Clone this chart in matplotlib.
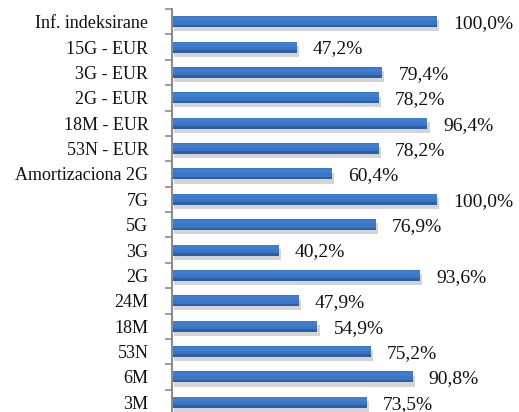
import matplotlib.pyplot as plt
import matplotlib.patheffects as pe
import numpy as np

categories = ["Inf. indeksirane", "15G - EUR", "3G - EUR", "2G - EUR", "18M - EUR",
              "53N - EUR", "Amortizaciona 2G", "7G", "5G", "3G", "2G", "24M",
              "18M", "53N", "6M", "3M"]
values = [100.0, 47.2, 79.4, 78.2, 96.4, 78.2, 60.4, 100.0, 76.9, 40.2,
          93.6, 47.9, 54.9, 75.2, 90.8, 73.5]

plt.rcParams["font.family"] = ["Liberation Serif", "DejaVu Serif"]

fig = plt.figure(figsize=(5.19, 4.12), dpi=100)
W, H = 519, 412
top_px, bottom_px = 9, 415
left_px = 172
ax = fig.add_axes([left_px / W, (H - bottom_px) / H, 130 * 2.65 / W, (bottom_px - top_px) / H])

n = len(categories)
y = np.arange(n)
bh = 0.43
shadow = [pe.SimplePatchShadow(offset=(1.5, -3), shadow_rgbFace="#a0a0a0", alpha=0.45), pe.Normal()]
# darker lower part of the bar
ax.barh(y, values, height=bh, color="#2E5EA6", linewidth=0, path_effects=shadow)
# lighter upper part (simple two-tone gradient)
ax.barh(y - bh * 0.12, values, height=bh * 0.76, color="#3B76C6", linewidth=0)
ax.barh(y - bh * 0.25, values, height=bh * 0.4, color="#3F7DCF", linewidth=0)

for yi, v in zip(y, values):
    ax.text(v + 6, yi + 0.08, f"{v:.1f}%".replace(".", ","), va="center", ha="left",
            fontsize=14, color="#111111")

ax.set_xlim(0, 130)
ax.set_ylim(n - 0.5, -0.5)
ax.set_yticks(y)
ax.set_yticklabels(categories, fontsize=13, color="#111111")
ax.set_yticks(np.arange(n + 1) - 0.5, minor=True)
ax.tick_params(axis="y", which="major", length=0, pad=17)
ax.tick_params(axis="y", which="minor", length=5, width=1.2, color="#8c8c8c", direction="out")
ax.set_xticks([])
for s in ["top", "right", "bottom"]:
    ax.spines[s].set_visible(False)
ax.spines["left"].set_color("#8c8c8c")
ax.spines["left"].set_linewidth(1.5)

fig.savefig("out.png", dpi=100)
